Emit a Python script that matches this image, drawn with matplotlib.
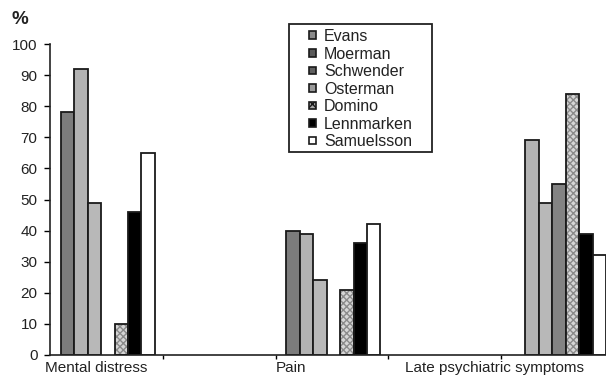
import matplotlib
matplotlib.use("Agg")
import matplotlib.pyplot as plt
from matplotlib.patches import Patch, Rectangle

plt.rcParams['font.family'] = ['Liberation Sans', 'DejaVu Sans']

categories = ["Mental distress", "Pain", "Late psychiatric symptoms"]
series = ["Evans", "Moerman", "Schwender", "Osterman", "Domino", "Lennmarken", "Samuelsson"]
# values per series for each category (None = not reported)
values = {
    "Evans":      [78, 40, None],
    "Moerman":    [92, 39, 69],
    "Schwender":  [49, 24, 49],
    "Osterman":   [None, None, 55],
    "Domino":     [10, 21, 84],
    "Lennmarken": [46, 36, 39],
    "Samuelsson": [65, 42, 32],
}
yticks = list(range(0, 101, 10))

colors = {
    "Evans": "#7c7c7c",
    "Moerman": "#b3b3b3",
    "Schwender": "#b8b8b8",
    "Osterman": "#838383",
    "Domino": "#d6d6d6",
    "Lennmarken": "#000000",
    "Samuelsson": "#ffffff",
}
legend_colors = {
    "Evans": "#8a8a8a",
    "Moerman": "#5a5a5a",
    "Schwender": "#606060",
    "Osterman": "#9a9a9a",
    "Domino": "#aaaaaa",
    "Lennmarken": "#000000",
    "Samuelsson": "#ffffff",
}

W, H = 606, 377
fig = plt.figure(figsize=(W/100, H/100), dpi=100)
ax = fig.add_axes([50/W, 1-355/H, 1-50/W, (355-44)/H])

group_pos = [0, 2, 4]
w = 0.119
for i, s in enumerate(series):
    for g, v in zip(group_pos, values[s]):
        if v is None:
            continue
        x = g + 0.013 + (i - 3) * w
        if s == "Domino":
            ax.bar(x, v, width=w, color=colors[s], edgecolor="#8a8a8a",
                   hatch="xxxxx", linewidth=0, zorder=2)
            ax.bar(x, v, width=w, fill=False, edgecolor="#1a1a1a",
                   linewidth=1.3, zorder=3)
        else:
            ax.bar(x, v, width=w, color=colors[s], edgecolor="#1a1a1a",
                   linewidth=1.3, zorder=2)

ax.set_xlim(-0.5, 4.43)
ax.set_ylim(0, 100)
ax.set_yticks(yticks)
ax.set_yticklabels([str(t) for t in yticks], fontsize=11, color="#222222")
ax.set_xticks([0.5, 1.5, 2.5, 3.5])
ax.set_xticklabels([])
ax.tick_params(axis='y', direction='out', length=4, width=1, pad=5)
ax.tick_params(axis='x', direction='out', length=3, width=1)
for sp in ["top", "right"]:
    ax.spines[sp].set_visible(False)
for sp in ["left", "bottom"]:
    ax.spines[sp].set_linewidth(1.2)
    ax.spines[sp].set_color("#222222")

label_x = [-0.093, 1.64, 3.44]
for lx, c in zip(label_x, categories):
    ax.text(lx, -2.0, c, ha='center', va='top', fontsize=11, color="#222222",
            transform=ax.transData)

fig.text(12/W, 1-20/H, "%", fontsize=13.5, fontweight='bold', va='center', ha='left', color="#222222")

# legend frame
fig.patches.append(Rectangle((289/W, 1-152/H), (432-289)/W, (152-24)/H,
                             transform=fig.transFigure, fill=False,
                             edgecolor="#222222", linewidth=1.3, zorder=5))

handles = [Patch(facecolor=legend_colors[s], edgecolor="#1a1a1a", linewidth=1.2,
                 hatch=("xxxx" if s == "Domino" else None)) for s in series]
leg = fig.legend(handles, series, loc='upper left',
                 bbox_to_anchor=(309/W, 1-29/H),
                 bbox_transform=fig.transFigure,
                 fontsize=11.5, frameon=False,
                 handlelength=0.45, handleheight=0.36, handletextpad=0.5,
                 labelspacing=0.16, borderpad=0, borderaxespad=0)
for t in leg.get_texts():
    t.set_color("#222222")

fig.savefig("out.png", dpi=100)
